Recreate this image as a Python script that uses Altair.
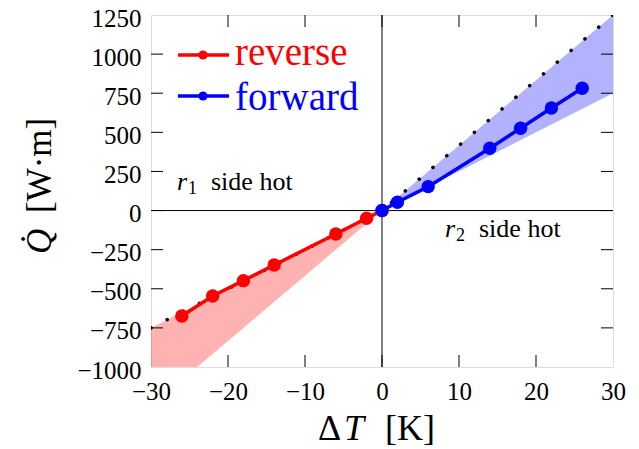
import altair as alt
import pandas as pd

# ---- data ----
fwd_x = [0, 2, 6, 14, 18, 22, 26]
fwd_y = [0, 53, 153, 398, 526, 656, 782]
rev_x = [0, -2, -6, -14, -18, -22, -26]
rev_y = [0, -49, -150, -348, -448, -546, -674]

guide_x = [-30, 0, 30]
guide_y = [-750, 0, 1250]

band_fwd_x = [0, 30]
band_fwd_lo = [0, 750]
band_fwd_hi = [0, 1250]
band_rev_x = [-30, 0]
band_rev_lo = [-1250, 0]
band_rev_hi = [-750, 0]

x_ticks = [-20, -10, 0, 10, 20]
y_ticks = [-750, -500, -250, 0, 250, 500, 750, 1000]
x_labels = [-30, -20, -10, 0, 10, 20, 30]
y_labels = [-1000, -750, -500, -250, 0, 250, 500, 750, 1000, 1250]

legend_names = ["reverse", "forward"]
x_title_parts = ["Δ", "T", "[K]"]
y_title_parts = ["Q̇", "[W·m]"]

RED = "#ff0000"
BLUE = "#0000ff"
FONT = "Liberation Serif"

W, H = 462, 352

xs = alt.Scale(domain=[-30, 30], nice=False, zero=False)
ys = alt.Scale(domain=[-1000, 1250], nice=False, zero=False)

X_AX = alt.Axis(values=x_labels, format="d", grid=False, ticks=False, tickSize=0, domain=False,
                labelFont=FONT, labelFontSize=25, labelPadding=12, labelColor="black",
                labelFlush=False, labelOverlap=False, title="")
Y_AX = alt.Axis(values=y_labels, format="d", grid=False, ticks=False, tickSize=0, domain=False,
                labelFont=FONT, labelFontSize=25, labelPadding=10, labelColor="black",
                labelFlush=False, labelOverlap=False, labelOffset=3, title="")


def X(f):
    return alt.X(f, scale=xs, axis=X_AX)


def Y(f):
    return alt.Y(f, scale=ys, axis=Y_AX)


fwd_band = pd.DataFrame({"x": band_fwd_x, "lo": band_fwd_lo, "hi": band_fwd_hi})
rev_band = pd.DataFrame({"x": band_rev_x, "lo": band_rev_lo, "hi": band_rev_hi})

band_f = alt.Chart(fwd_band).mark_area(color=BLUE, opacity=0.3, clip=True).encode(
    x=X("x:Q"), y=Y("lo:Q"), y2="hi:Q")
band_r = alt.Chart(rev_band).mark_area(color=RED, opacity=0.3, clip=True).encode(
    x=X("x:Q"), y=Y("lo:Q"), y2="hi:Q")

zero_v = alt.Chart(pd.DataFrame({"x": [0]})).mark_rule(color="black", strokeWidth=1).encode(
    x=X("x:Q"))
zero_h = alt.Chart(pd.DataFrame({"y": [0]})).mark_rule(color="black", strokeWidth=1).encode(
    y=Y("y:Q"))

guide = alt.Chart(pd.DataFrame({"x": guide_x, "y": guide_y})).mark_line(
    color="black", strokeWidth=3.5, strokeDash=[0.1, 18], strokeCap="round", clip=True
).encode(x=X("x:Q"), y=Y("y:Q"))

rev_df = pd.DataFrame({"x": rev_x, "y": rev_y})
fwd_df = pd.DataFrame({"x": fwd_x, "y": fwd_y})

rev_line = alt.Chart(rev_df).mark_line(color=RED, strokeWidth=3.5).encode(
    x=X("x:Q"), y=Y("y:Q"))
rev_pts = alt.Chart(rev_df).mark_circle(color=RED, size=180, opacity=1).encode(
    x=X("x:Q"), y=Y("y:Q"))
fwd_line = alt.Chart(fwd_df).mark_line(color=BLUE, strokeWidth=3.5).encode(
    x=X("x:Q"), y=Y("y:Q"))
fwd_pts = alt.Chart(fwd_df).mark_circle(color=BLUE, size=180, opacity=1).encode(
    x=X("x:Q"), y=Y("y:Q"))

# inward ticks on all four sides
xt = pd.DataFrame({"x": x_ticks})
yt = pd.DataFrame({"y": y_ticks})
TL = 12
tick_b = alt.Chart(xt).mark_rule(color="black", strokeWidth=1).encode(
    x=X("x:Q"), y=alt.value(H), y2=alt.value(H - TL))
tick_t = alt.Chart(xt).mark_rule(color="black", strokeWidth=1).encode(
    x=X("x:Q"), y=alt.value(0), y2=alt.value(TL))
tick_l = alt.Chart(yt).mark_rule(color="black", strokeWidth=1).encode(
    y=Y("y:Q"), x=alt.value(0), x2=alt.value(TL))
tick_r = alt.Chart(yt).mark_rule(color="black", strokeWidth=1).encode(
    y=Y("y:Q"), x=alt.value(W), x2=alt.value(W - TL))

# legend (manual)
leg = pd.DataFrame({"name": legend_names, "ly": [40, 81], "ty": [50, 95],
                    "col": [RED, BLUE]})
leg_line = alt.Chart(leg).mark_rule(strokeWidth=3.5).encode(
    x=alt.value(27), x2=alt.value(78), y=alt.Y("ly:Q", scale=None),
    color=alt.Color("col:N", scale=None))
leg_pt = alt.Chart(leg).mark_circle(size=85, opacity=1).encode(
    x=alt.value(52), y=alt.Y("ly:Q", scale=None), color=alt.Color("col:N", scale=None))
leg_txt = alt.Chart(leg).mark_text(font=FONT, fontSize=39, align="left",
                                   baseline="alphabetic").encode(
    x=alt.value(84), y=alt.Y("ty:Q", scale=None), text="name:N",
    color=alt.Color("col:N", scale=None))

# annotations
ann = pd.DataFrame({"sub": ["1", "2"], "rx": [26, 294], "by": [175, 222],
                    "label": ["side hot", "side hot"]})
ann["sx"] = ann["rx"] + 11
ann["tx"] = ann["rx"] + 34
ann["sy"] = ann["by"] + 4
ann_r = alt.Chart(ann).mark_text(font=FONT, fontSize=26, fontStyle="italic", align="left",
                                 baseline="alphabetic", color="black").encode(
    x=alt.X("rx:Q", scale=None), y=alt.Y("by:Q", scale=None), text=alt.value("r"))
ann_s = alt.Chart(ann).mark_text(font=FONT, fontSize=18, align="left",
                                 baseline="alphabetic", color="black").encode(
    x=alt.X("sx:Q", scale=None), y=alt.Y("sy:Q", scale=None), text="sub:N")
ann_t = alt.Chart(ann).mark_text(font=FONT, fontSize=26, align="left",
                                 baseline="alphabetic", color="black").encode(
    x=alt.X("tx:Q", scale=None), y=alt.Y("by:Q", scale=None), text="label:N")

# axis titles (math parts in italic)
xt_df = pd.DataFrame({"t": x_title_parts, "px": [167, 193, 234],
                      "st": ["normal", "italic", "normal"]})
yt_df = pd.DataFrame({"t": y_title_parts, "py": [239, 198],
                      "st": ["italic", "normal"]})


def x_title_layer(style):
    return alt.Chart(xt_df).transform_filter(alt.datum.st == style).mark_text(
        font=FONT, fontSize=36, fontStyle=style, align="left", baseline="alphabetic",
        color="black").encode(x=alt.X("px:Q", scale=None), y=alt.value(425), text="t:N")


def y_title_layer(style):
    return alt.Chart(yt_df).transform_filter(alt.datum.st == style).mark_text(
        font=FONT, fontSize=35, fontStyle=style, align="left", angle=270,
        baseline="alphabetic", color="black").encode(
        x=alt.value(-100), y=alt.Y("py:Q", scale=None), text="t:N")


chart = alt.layer(
    band_r, band_f, zero_v, zero_h, guide, rev_line, rev_pts, fwd_line, fwd_pts,
    tick_b, tick_t, tick_l, tick_r, leg_line, leg_pt, leg_txt, ann_r, ann_s, ann_t,
    x_title_layer("normal"), x_title_layer("italic"),
    y_title_layer("normal"), y_title_layer("italic"),
).properties(
    width=W, height=H,
    autosize=alt.AutoSizeParams(type="none"),
    padding={"left": 143, "top": 7, "right": 18, "bottom": 82},
).configure_view(stroke="black", strokeWidth=1.3).configure(background="white")

chart.save("out.html", embed_options={"renderer": "svg", "actions": False})
